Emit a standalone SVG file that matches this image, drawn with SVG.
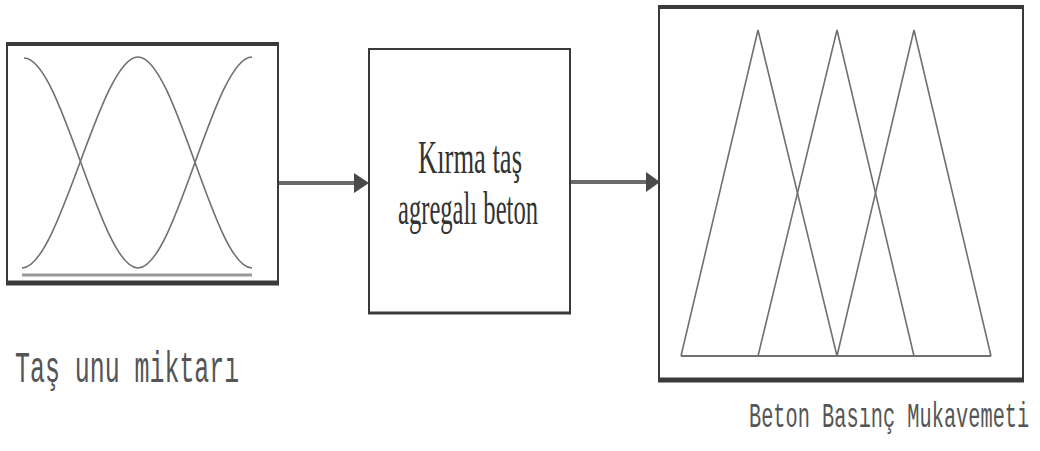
<svg xmlns="http://www.w3.org/2000/svg" width="1040" height="451" viewBox="0 0 1040 451">
<style>
.frame{fill:#fff;stroke:#3a3a3a;stroke-width:2}
.thick{stroke:#3a3a3a;stroke-width:4;fill:none}
.mf{fill:none;stroke:#707070;stroke-width:1.6}
.conn{stroke:#6a6a6a;stroke-width:4;fill:none}
.head{fill:#4a4a4a}
.mono{font-family:"Liberation Mono","DejaVu Sans Mono",monospace;fill:#555}
.serif{font-family:"Liberation Serif","Times New Roman",serif;fill:#333}
</style>
<rect width="1040" height="451" fill="#fff"/>
<g id="input-node">
  <rect class="frame" x="7" y="44" width="271" height="239"/>
  <line class="thick" x1="6" y1="44" x2="279" y2="44"/>
  <line class="thick" x1="6" y1="283" x2="279" y2="283" style="stroke-width:5"/>
  <line x1="22" y1="275" x2="252" y2="275" stroke="#9a9a9a" stroke-width="3"/>
  <path class="mf" d="M24,58 C62,58 100,268 138,268"/>
  <path class="mf" d="M22,268 C60,268 100,57 138,57 C176,57 214,268 252,268"/>
  <path class="mf" d="M138,268 C176,268 214,57 252,57"/>
  <text class="mono" transform="translate(15,382) scale(0.566,1)" x="0" y="0" font-size="44">Taş unu miktarı</text>
</g>
<g id="process-node">
  <rect class="frame" x="369" y="49" width="201" height="264"/>
  <line class="thick" x1="368" y1="313" x2="571" y2="313" style="stroke-width:3"/>
  <text class="serif" x="470" y="173" font-size="47" text-anchor="middle" textLength="104" lengthAdjust="spacingAndGlyphs">Kırma taş</text>
  <text class="serif" x="468" y="224" font-size="47" text-anchor="middle" textLength="140" lengthAdjust="spacingAndGlyphs">agregalı beton</text>
</g>
<g id="output-node">
  <rect class="frame" x="659" y="7" width="364" height="373"/>
  <line class="thick" x1="658" y1="7" x2="1024" y2="7"/>
  <line class="thick" x1="658" y1="380" x2="1024" y2="380" style="stroke-width:5"/>
  <polyline class="mf" points="681,356 758,30 837,356"/>
  <polyline class="mf" points="758,356 837,30 914,356"/>
  <polyline class="mf" points="837,356 914,30 991,356"/>
  <line x1="681" y1="356" x2="991" y2="356" stroke="#707070" stroke-width="2"/>
  <text class="mono" transform="translate(749,427) scale(0.564,1)" x="0" y="0" font-size="36">Beton Basınç Mukavemeti</text>
</g>
<g id="connectors">
  <line class="conn" x1="279" y1="183" x2="356" y2="183"/>
  <polygon class="head" points="354,173 369,183 354,193"/>
  <line class="conn" x1="571" y1="182" x2="648" y2="182"/>
  <polygon class="head" points="646,172 660,182 646,192"/>
</g>
</svg>
